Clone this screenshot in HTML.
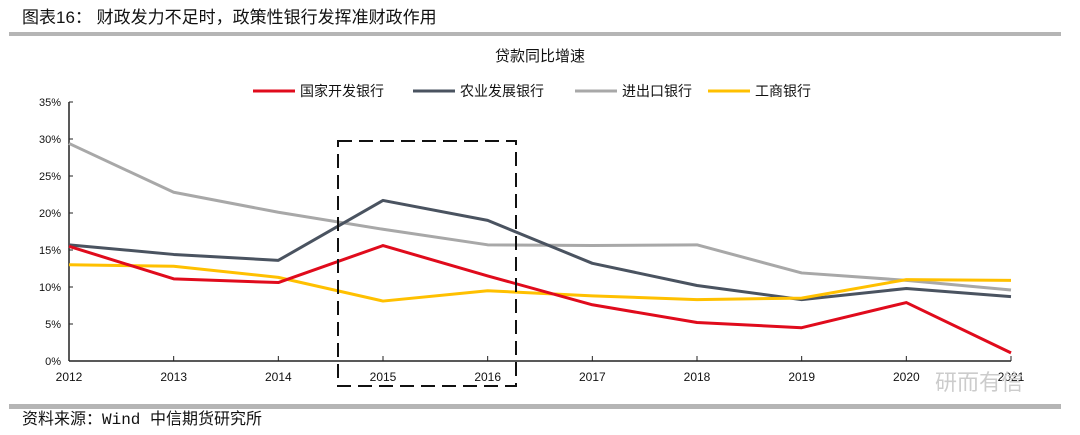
<!DOCTYPE html>
<html><head><meta charset="utf-8"><style>
body{margin:0;background:#fff;width:1080px;height:430px;overflow:hidden;font-family:"Liberation Sans","Noto Sans CJK SC",sans-serif}
</style></head><body>
<svg width="1080" height="430" xmlns="http://www.w3.org/2000/svg">
<text x="22" y="23" font-size="17" fill="#111" font-family="Liberation Sans, Noto Sans CJK SC, sans-serif">图表16： 财政发力不足时，政策性银行发挥准财政作用</text>
<rect x="9" y="32" width="1052" height="4" fill="#b5b5b5"/>
<text x="540" y="61" font-size="15" text-anchor="middle" fill="#111">贷款同比增速</text>
<g id="legend"></g>
<g id="axes"></g>
<g id="series"></g>
<rect x="338" y="141" width="178" height="245" fill="none" stroke="#111" stroke-width="2" stroke-dasharray="14,7"/>
<text x="935" y="390" font-size="22" fill="#ccc">研而有信</text>
<rect x="9" y="404" width="1052" height="5" fill="#b5b5b5"/>
<text x="22" y="424" font-size="16" fill="#111" font-family="Liberation Mono, Noto Sans CJK SC, monospace">资料来源：Wind 中信期货研究所</text>
</svg>
<script>
const years=["2012","2013","2014","2015","2016","2017","2018","2019","2020","2021"];
const yTicks=[0,5,10,15,20,25,30,35];
const seriesNames=["国家开发银行","农业发展银行","进出口银行","工商银行"];
const cdb=[15.5,11.1,10.6,15.6,11.5,7.6,5.2,4.5,7.9,1.1];
const adbc=[15.7,14.4,13.6,21.7,19.0,13.2,10.2,8.3,9.8,8.7];
const exim=[29.4,22.8,20.1,17.8,15.7,15.6,15.7,11.9,10.9,9.6];
const icbc=[13.0,12.8,11.3,8.1,9.5,8.8,8.3,8.5,11.0,10.9];
const colors=["#e00b1c","#4a5360","#a8a8a8","#ffc000"];
const NS="http://www.w3.org/2000/svg";
const x0=69,x1=1011,yBase=361,yTop=102,yMax=35;
const X=i=>x0+(x1-x0)*i/(years.length-1);
const Y=v=>yBase-(yBase-yTop)*v/yMax;
function mk(t,a,p){const e=document.createElementNS(NS,t);for(const k in a)e.setAttribute(k,a[k]);p.appendChild(e);return e;}
const ax=document.getElementById('axes');
const yl=mk('line',{x1:x0,y1:yTop,x2:x0,y2:yBase,stroke:'#222','stroke-width':1.5},ax);


const xl=mk('line',{x1:x0,y1:yBase,x2:x1,y2:yBase,stroke:'#222','stroke-width':1.5},ax);


yTicks.forEach(v=>{
 mk('line',{x1:x0,y1:Y(v),x2:x0+4,y2:Y(v),stroke:'#222'},ax);
 const t=mk('text',{x:x0-8,y:Y(v)+4,'font-size':11,'text-anchor':'end',fill:'#111'},ax);t.textContent=v+'%';
 
 
});
years.forEach((yr,i)=>{
 mk('line',{x1:X(i),y1:yBase,x2:X(i),y2:yBase-5,stroke:'#222'},ax);
 const t=mk('text',{x:X(i),y:yBase+20,'font-size':12,'text-anchor':'middle',fill:'#111'},ax);t.textContent=yr;
 
 
});
const sg=document.getElementById('series');
[exim,adbc,icbc,cdb].forEach((d)=>{
 const idx=[cdb,adbc,exim,icbc].indexOf(d);
 const p=mk('polyline',{points:d.map((v,i)=>X(i)+','+Y(v)).join(' '),fill:'none',stroke:colors[idx],'stroke-width':3,'stroke-linejoin':'round'},sg);
 
 
});
const lg=document.getElementById('legend');
const lx=[253,413,575,708];
seriesNames.forEach((n,i)=>{
 mk('line',{x1:lx[i],y1:91,x2:lx[i]+42,y2:91,stroke:colors[i],'stroke-width':3},lg);
 const t=mk('text',{x:lx[i]+47,y:96,'font-size':14,fill:'#111'},lg);t.textContent=n;
 
 
});
</script>
</body></html>
